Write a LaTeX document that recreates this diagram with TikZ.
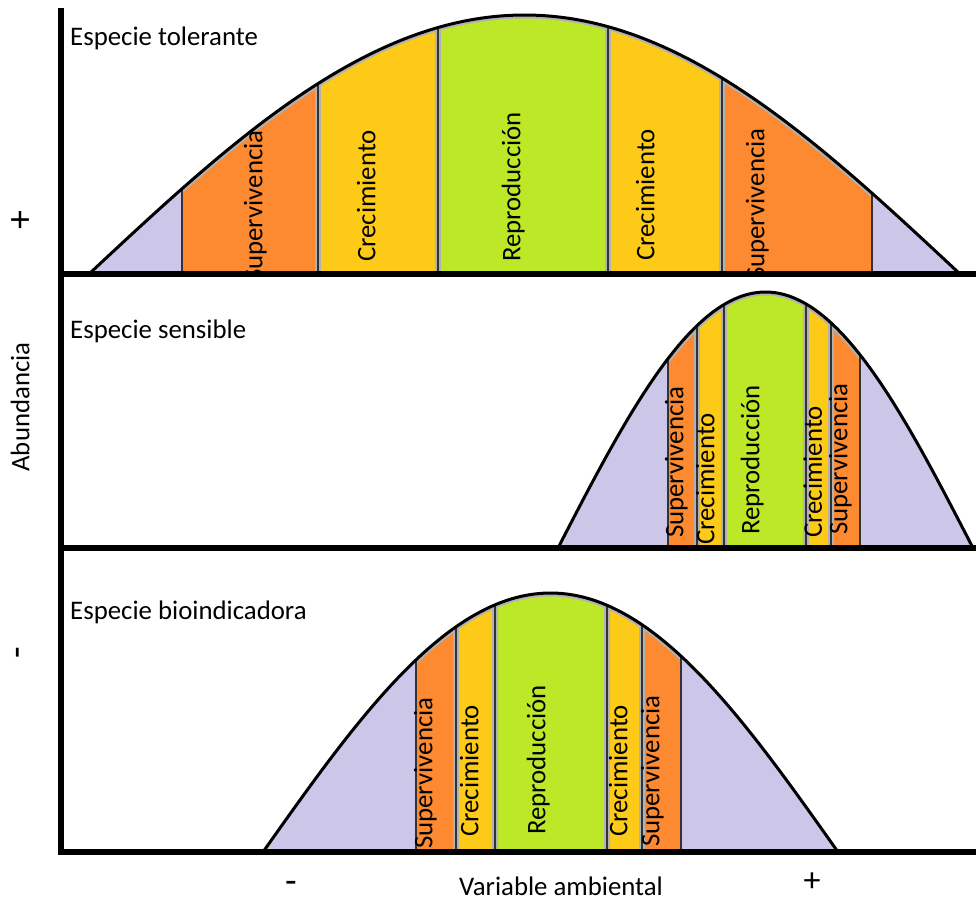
\documentclass[tikz,border=0pt]{standalone}
\usepackage{fontspec}
\setmainfont{Carlito}
\definecolor{lav}{HTML}{CCC6E8}
\definecolor{oran}{HTML}{FD8A30}
\definecolor{yel}{HTML}{FDCB17}
\definecolor{grn}{HTML}{BCE828}
\begin{document}
\begin{tikzpicture}[x=1pt,y=-1pt,
 declare function={fa(\x)=274-259*cos(0.206659*(\x-524.5)); fb(\x)=548-256*cos(0.433735*(\x-765.5)); fc(\x)=852-259*cos(0.313043*(\x-550.5));},
 txt/.style={font=\fontsize{26.8}{32}\selectfont, inner sep=0pt},
 sym/.style={font=\fontsize{38}{42}\selectfont, inner sep=1pt},
 barlbl/.style={txt, rotate=90, anchor=mid west},
 divedge/.style={draw=black!30, line width=6pt},
 divline/.style={draw=black!80, line width=2.6pt},
 curveedge/.style={draw=black!30, line width=7pt},
 curveline/.style={draw=black, line width=3pt},
 axisline/.style={draw=black, line width=5.5pt}]
\useasboundingbox (0,0) rectangle (976,902);

% ---------- panel 1: tolerante ----------
\fill[lav] plot[domain=89:960,samples=150] (\x,{fa(\x)}) -- cycle;
\begin{scope}
\clip plot[domain=89:960,samples=150] (\x,{fa(\x)}) -- cycle;
\fill[oran] (182,0) rectangle (318,280);
\fill[yel] (318,0) rectangle (438,280);
\fill[grn] (438,0) rectangle (608,280);
\fill[yel] (608,0) rectangle (722,280);
\fill[oran] (722,0) rectangle (872,280);
\clip (182,0) rectangle (872,280);
\draw[curveedge] plot[domain=89:960,samples=150] (\x,{fa(\x)});
\end{scope}
\foreach \d in {318,438,608,722} \draw[divedge] (\d,274) -- (\d,{fa(\d)+2});
\foreach \d in {182,318,438,608,722,872} \draw[divline] (\d,274) -- (\d,{fa(\d)});
\begin{scope}
\clip (0,0) rectangle (976,272);
\node[barlbl] (a1) at (260,282) {Supervivencia};
\node[barlbl] (a2) at (373,262) {Crecimiento};
\node[barlbl] (a3) at (518,262) {Reproducción};
\node[barlbl] (a4) at (652,261) {Crecimiento};
\node[barlbl] (a5) at (762,280) {Supervivencia};
\end{scope}
\draw[curveline] plot[domain=89:960,samples=150] (\x,{fa(\x)});

% ---------- panel 2: sensible ----------
\fill[lav] plot[domain=558:973,samples=120] (\x,{fb(\x)}) -- cycle;
\begin{scope}
\clip plot[domain=558:973,samples=120] (\x,{fb(\x)}) -- cycle;
\fill[oran] (668,280) rectangle (697,552);
\fill[yel] (697,280) rectangle (724,552);
\fill[grn] (724,280) rectangle (806,552);
\fill[yel] (806,280) rectangle (831,552);
\fill[oran] (831,280) rectangle (860,552);
\clip (668,280) rectangle (860,552);
\draw[curveedge] plot[domain=558:973,samples=120] (\x,{fb(\x)});
\end{scope}
\foreach \d in {697,724,806,831} \draw[divedge] (\d,548) -- (\d,{fb(\d)+2});
\foreach \d in {668,697,724,806,831,860} \draw[divline] (\d,548) -- (\d,{fb(\d)});
\node[barlbl] (b1) at (681,538) {Supervivencia};
\node[barlbl] (b2) at (712,545) {Crecimiento};
\node[barlbl] (b3) at (757,535) {Reproducción};
\node[barlbl] (b4) at (819.5,538) {Crecimiento};
\node[barlbl] (b5) at (845,535) {Supervivencia};
\draw[curveline] plot[domain=558:973,samples=120] (\x,{fb(\x)});

% ---------- panel 3: bioindicadora ----------
\fill[lav] plot[domain=263:838,samples=130] (\x,{fc(\x)}) -- cycle;
\begin{scope}
\clip plot[domain=263:838,samples=130] (\x,{fc(\x)}) -- cycle;
\fill[oran] (416,580) rectangle (456,856);
\fill[yel] (456,580) rectangle (495,856);
\fill[grn] (495,580) rectangle (607,856);
\fill[yel] (607,580) rectangle (642,856);
\fill[oran] (642,580) rectangle (681,856);
\clip (416,580) rectangle (681,856);
\draw[curveedge] plot[domain=263:838,samples=130] (\x,{fc(\x)});
\end{scope}
\foreach \d in {456,495,607,642} \draw[divedge] (\d,852) -- (\d,{fc(\d)+2});
\foreach \d in {416,456,495,607,642,681} \draw[divline] (\d,852) -- (\d,{fc(\d)});
\node[barlbl] (c1) at (430,849) {Supervivencia};
\node[barlbl] (c2) at (476,837) {Crecimiento};
\node[barlbl] (c3) at (543,835) {Reproducción};
\node[barlbl] (c4) at (625,837) {Crecimiento};
\node[barlbl] (c5) at (657,847) {Supervivencia};
\draw[curveline] plot[domain=263:838,samples=130] (\x,{fc(\x)});

% ---------- axes ----------
\draw[axisline] (58,274) -- (976,274);
\draw[axisline] (58,548) -- (976,548);
\draw[axisline] (58,852) -- (976,852);
\draw[axisline] (61,8) -- (61,855);

% ---------- titles and axis labels ----------
\node[txt, anchor=base west] (t1) at (70,45) {Especie tolerante};
\node[txt, anchor=base west] (t2) at (70,338) {Especie sensible};
\node[txt, anchor=base west] (t3) at (70,619) {Especie bioindicadora};
\node[sym, rotate=90] (yp) at (22,220) {+};
\node[sym, rotate=90] (ym) at (22.5,653) {-};
\node[txt, rotate=90, anchor=mid] (yl) at (27,407) {Abundancia};
\node[sym] (xm) at (291,887) {-};
\node[txt, anchor=base] (xl) at (561,895) {Variable ambiental};
\node[sym, font=\fontsize{34}{38}\selectfont] (xp) at (812,882) {+};
\end{tikzpicture}
\end{document}
